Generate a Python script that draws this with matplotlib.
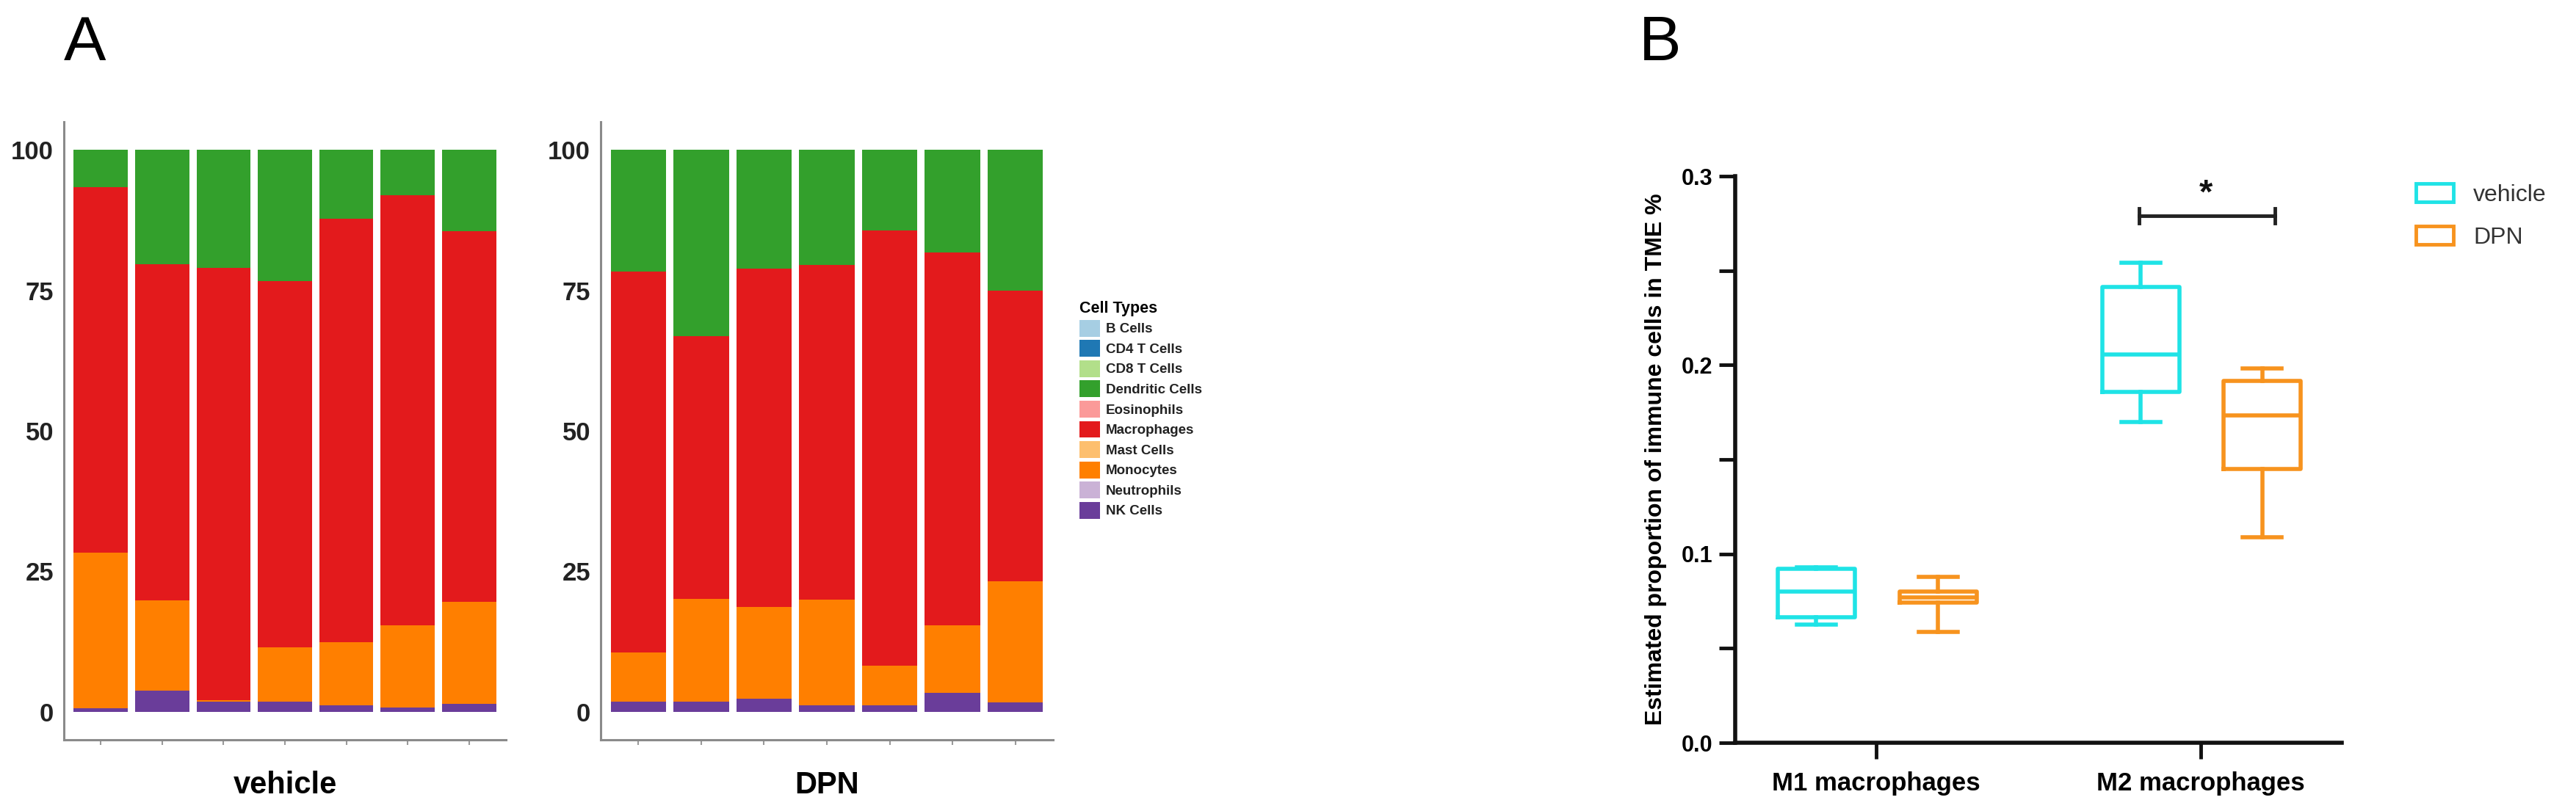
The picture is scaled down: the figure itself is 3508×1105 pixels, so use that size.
import matplotlib
matplotlib.use("Agg")
import matplotlib.pyplot as plt
from matplotlib.patches import Patch
import numpy as np

plt.rcParams['font.family'] = ['Liberation Sans', 'DejaVu Sans']

# ---- panel A data (percent of immune cells per sample) ----
cell_types = ['B Cells', 'CD4 T Cells', 'CD8 T Cells', 'Dendritic Cells', 'Eosinophils',
              'Macrophages', 'Mast Cells', 'Monocytes', 'Neutrophils', 'NK Cells']
cell_colors = ['#a6cee3', '#1f78b4', '#b2df8a', '#33a02c', '#fb9a99',
               '#e31a1c', '#fdbf6f', '#ff7f00', '#cab2d6', '#6a3d9a']

veh_nk = [0.6, 3.7, 1.8, 1.8, 1.2, 0.7, 1.4]
veh_mono = [27.7, 16.1, 0.3, 9.7, 11.2, 14.7, 18.2]
veh_macro = [65.1, 59.9, 76.9, 65.2, 75.4, 76.5, 65.9]
veh_dc = [6.6, 20.3, 21.0, 23.3, 12.2, 8.1, 14.5]

dpn_nk = [1.8, 1.8, 2.3, 1.2, 1.2, 3.3, 1.6]
dpn_mono = [8.7, 18.3, 16.3, 18.7, 7.0, 12.1, 21.6]
dpn_macro = [67.9, 46.7, 60.3, 59.6, 77.5, 66.4, 51.8]
dpn_dc = [21.6, 33.2, 21.1, 20.5, 14.3, 18.2, 25.0]

zeros = [0, 0, 0, 0, 0, 0, 0]

# ---- panel B data (box stats) ----
groups = ['M1 macrophages', 'M2 macrophages']
veh_whislo = [0.0625, 0.170]
veh_q1 = [0.0665, 0.1856]
veh_med = [0.0802, 0.2057]
veh_q3 = [0.0920, 0.2415]
veh_whishi = [0.0930, 0.254]
dpn_whislo = [0.0585, 0.109]
dpn_q1 = [0.0743, 0.145]
dpn_med = [0.0770, 0.1733]
dpn_q3 = [0.0802, 0.1917]
dpn_whishi = [0.0877, 0.198]

W, H = 3508, 1105
fig = plt.figure(figsize=(W / 100, H / 100), dpi=100)


def stacked(ax, layers, xlabel):
    # layers in stacking order, bottom to top
    x = np.arange(1, 8)
    bottom = np.zeros(7)
    order = ['NK Cells', 'Neutrophils', 'Monocytes', 'Mast Cells', 'Macrophages',
             'Eosinophils', 'Dendritic Cells', 'CD8 T Cells', 'CD4 T Cells', 'B Cells']
    for name in order:
        vals = np.array(layers.get(name, zeros), dtype=float)
        col = cell_colors[cell_types.index(name)]
        ax.bar(x, vals, bottom=bottom, width=0.88, color=col, linewidth=0)
        bottom = bottom + vals
    ax.set_xlim(0.4, 7.6)
    ax.set_ylim(-5, 105)
    ax.set_yticks([0, 25, 50, 75, 100])
    ax.set_xticks(x)
    ax.set_xticklabels([])
    for s in ['top', 'right']:
        ax.spines[s].set_visible(False)
    for s in ['left', 'bottom']:
        ax.spines[s].set_color('#8a8a8a')
        ax.spines[s].set_linewidth(2.2)
    ax.tick_params(axis='y', length=0, pad=10, labelsize=25)
    ax.tick_params(axis='x', length=5, color='#9a9a9a', width=1.5)
    for t in ax.get_yticklabels():
        t.set_fontweight('bold')
        t.set_color('#222222')
    ax.set_xlabel(xlabel, fontsize=30, fontweight='bold', labelpad=22)


ax1 = fig.add_axes([87 / W, 1 - 1008 / H, 602 / W, 842 / H])
stacked(ax1, {'NK Cells': veh_nk, 'Monocytes': veh_mono,
              'Macrophages': veh_macro, 'Dendritic Cells': veh_dc}, 'vehicle')
ax2 = fig.add_axes([818 / W, 1 - 1008 / H, 616 / W, 842 / H])
stacked(ax2, {'NK Cells': dpn_nk, 'Monocytes': dpn_mono,
              'Macrophages': dpn_macro, 'Dendritic Cells': dpn_dc}, 'DPN')

handles = [Patch(facecolor=c, edgecolor='none') for c in cell_colors]
leg = fig.legend(handles, cell_types, title='Cell Types', loc='upper left',
                 bbox_to_anchor=(1470 / W, 1 - 410 / H), frameon=False,
                 fontsize=13.5, title_fontproperties={'size': 15.5, 'weight': 'bold'},
                 handlelength=1.5, handleheight=1.5, labelspacing=0.25,
                 handletextpad=0.4, borderpad=0, borderaxespad=0)
leg._legend_box.align = 'left'
for t in leg.get_texts():
    t.set_fontweight('bold')
    t.set_color('#222222')

fig.text(87 / W, 1 - 60 / H, 'A', fontsize=62, va='center', ha='left')
fig.text(2232 / W, 1 - 60 / H, 'B', fontsize=62, va='center', ha='left')

# ---- panel B ----
axb = fig.add_axes([2363 / W, 1 - 1012 / H, 826 / W, 772 / H])
cyan = '#1fe3e6'
orange = '#f7931e'
pos = np.arange(len(groups))


def stats(lo, q1, med, q3, hi):
    return [dict(whislo=lo[i], q1=q1[i], med=med[i], q3=q3[i], whishi=hi[i], fliers=[])
            for i in range(len(lo))]


for st, off, col in [(stats(veh_whislo, veh_q1, veh_med, veh_q3, veh_whishi), -0.185, cyan),
                     (stats(dpn_whislo, dpn_q1, dpn_med, dpn_q3, dpn_whishi), 0.19, orange)]:
    lp = dict(color=col, linewidth=4)
    axb.bxp(st, positions=pos + off, widths=0.238, showfliers=False,
            boxprops=lp, whiskerprops=lp, capprops=lp, medianprops=lp,
            capwidths=0.12, manage_ticks=False)

axb.set_xlim(-0.435, 1.435)
axb.set_ylim(0, 0.3)
axb.set_xticks(pos)
axb.set_xticklabels(groups, fontsize=25, fontweight='bold')
axb.set_yticks([0.0, 0.1, 0.2, 0.3])
axb.set_yticks([0.05, 0.15, 0.25], minor=True)
axb.set_yticklabels(['0.0', '0.1', '0.2', '0.3'], fontsize=22, fontweight='bold')
for s in ['top', 'right']:
    axb.spines[s].set_visible(False)
for s in ['left', 'bottom']:
    axb.spines[s].set_linewidth(4)
    axb.spines[s].set_color('#111111')
axb.tick_params(axis='both', which='both', length=16, width=3.5, color='#111111', pad=6)
axb.tick_params(axis='x', pad=12)
axb.set_ylabel('Estimated proportion of immune cells in TME %', fontsize=23,
               fontweight='bold', labelpad=14)

# significance bar over M2 macrophages
sig_y = 0.279
sig_x = [pos[1] - 0.19, pos[1] + 0.23]
axb.plot(sig_x, [sig_y, sig_y], color='#222222', linewidth=3.5, clip_on=False)
for xe in sig_x:
    axb.plot([xe, xe], [sig_y - 0.004, sig_y + 0.004], color='#222222', linewidth=3.5,
             clip_on=False)
axb.text(pos[1] + 0.016, sig_y + 0.003, '*', fontsize=34, fontweight='bold', ha='center',
         va='bottom', color='#111111')

hb = [Patch(facecolor='white', edgecolor=cyan, linewidth=3.5),
      Patch(facecolor='white', edgecolor=orange, linewidth=3.5)]
fig.legend(hb, ['vehicle', 'DPN'], loc='upper left', bbox_to_anchor=(3290 / W, 1 - 250 / H),
           frameon=False, fontsize=23, handlelength=1.6, handleheight=0.85,
           labelspacing=0.85, handletextpad=0.85, borderpad=0, borderaxespad=0,
           labelcolor='#333333')

fig.savefig('out.png', dpi=100, facecolor='white')
